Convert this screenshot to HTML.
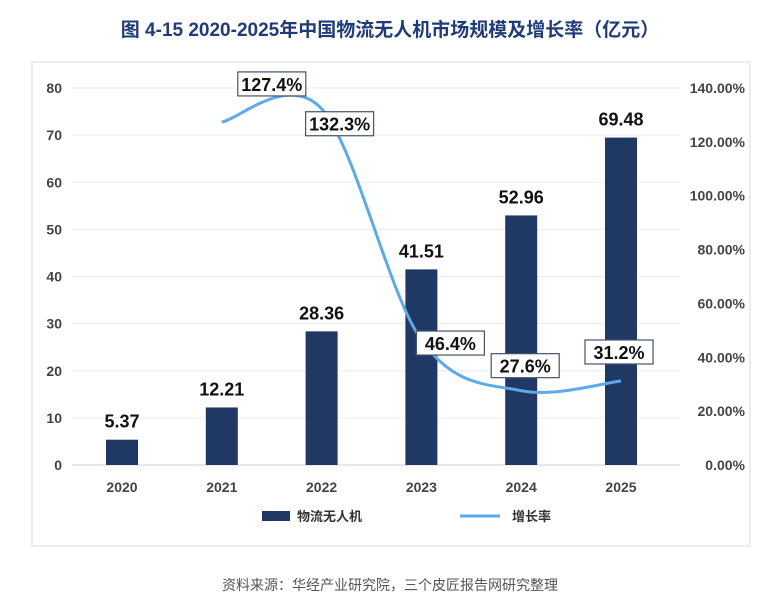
<!DOCTYPE html>
<html><head><meta charset="utf-8"><style>
body{margin:0;background:#fff;width:779px;height:610px;overflow:hidden;font-family:"Liberation Sans","Noto Sans CJK SC",sans-serif}
</style></head><body>
<svg width="779" height="610" xmlns="http://www.w3.org/2000/svg" id="svg" font-family="Liberation Sans, Noto Sans CJK SC, sans-serif">
<text x="390" y="36" text-anchor="middle" font-size="19" font-weight="bold" fill="#1f3c78">图  4-15 2020-2025年中国物流无人机市场规模及增长率（亿元）</text>
<rect x="32" y="62" width="718" height="484" fill="none" stroke="#d9d9d9"/>
<g id="grid"></g><g id="bars"></g><g id="line"></g><g id="labels"></g>
<g>
<rect x="262" y="511" width="28" height="10" fill="#203864"/>
<text x="297" y="521" font-size="13" font-weight="bold" fill="#333">物流无人机</text>
<line x1="460" y1="516" x2="500" y2="516" stroke="#5ea9ea" stroke-width="3"/>
<text x="512" y="521" font-size="13" font-weight="bold" fill="#333">增长率</text>
</g>
<text x="390" y="590" text-anchor="middle" font-size="14" fill="#555">资料来源：华经产业研究院，三个皮匠报告网研究整理</text>
</svg>
<script>
const categories=["2020","2021","2022","2023","2024","2025"];
const marketSize=[5.37,12.21,28.36,41.51,52.96,69.48];
const growthRate=[null,127.4,132.3,46.4,27.6,31.2];
const leftTicks=[0,10,20,30,40,50,60,70,80];
const rightTicks=[0,20,40,60,80,100,120,140];
const NS="http://www.w3.org/2000/svg";
const y0=465,y1=88;
const yL=v=>y0-(v/80)*(y0-y1);
const yR=v=>y0-(v/140)*(y0-y1);
const xC=i=>122+i*99.8;
function mk(t,a,p){const e=document.createElementNS(NS,t);for(const k in a)e.setAttribute(k,a[k]);document.getElementById(p).appendChild(e);return e;}
leftTicks.forEach(v=>{
 const g=mk('line',{x1:72,x2:680,y1:yL(v),y2:yL(v),stroke:v===0?'#d0d0d0':'#ececec'},'grid');
 
 
 const t=mk('text',{x:62,y:yL(v)+5,'text-anchor':'end','font-size':14,'font-weight':'bold',fill:'#444'},'grid');t.textContent=v;
 
 
});
rightTicks.forEach(v=>{
 const t=mk('text',{x:745,y:yR(v)+5,'text-anchor':'end','font-size':14,'font-weight':'bold',fill:'#444'},'grid');t.textContent=v.toFixed(2)+'%';
 
 
});
categories.forEach((c,i)=>{
 const t=mk('text',{x:xC(i),y:492,'text-anchor':'middle','font-size':14,'font-weight':'bold',fill:'#444'},'grid');t.textContent=c;
 
 
 const b=mk('rect',{x:xC(i)-16,y:yL(marketSize[i]),width:32,height:y0-yL(marketSize[i]),fill:'#203864'},'bars');
 
 
 const l=mk('text',{x:xC(i),y:yL(marketSize[i])-12,'text-anchor':'middle','font-size':18,'font-weight':'bold',fill:'#111'},'labels');l.textContent=marketSize[i].toFixed(2);
 
 
});
const pts=[];growthRate.forEach((v,i)=>{if(v!==null)pts.push([xC(i),yR(v)]);});
let d='M'+pts[0][0]+','+pts[0][1];
for(let i=0;i<pts.length-1;i++){
 const p0=pts[Math.max(0,i-1)],p1=pts[i],p2=pts[i+1],p3=pts[Math.min(pts.length-1,i+2)];
 const c1=[p1[0]+(p2[0]-p0[0])/6,p1[1]+(p2[1]-p0[1])/6],c2=[p2[0]-(p3[0]-p1[0])/6,p2[1]-(p3[1]-p1[1])/6];
 d+=` C${c1[0]},${c1[1]} ${c2[0]},${c2[1]} ${p2[0]},${p2[1]}`;
}
const ln=mk('path',{d:d,fill:'none',stroke:'#5ea9ea','stroke-width':3},'line');


const offs=[[0,0],[50,-38],[18,15],[29,3],[4,-25],[-2,-29]];
growthRate.forEach((v,i)=>{
 if(v===null)return;
 const cx=xC(i)+offs[i][0],cy=yR(v)+offs[i][1];
 const r=mk('rect',{x:cx-34,y:cy-12,width:68,height:24,fill:'#fff',stroke:'#44546a','stroke-width':1.2},'labels');
 
 
 const t=mk('text',{x:cx,y:cy+7,'text-anchor':'middle','font-size':18,'font-weight':'bold',fill:'#111'},'labels');t.textContent=v.toFixed(1)+'%';
 
 
});
</script>
</body></html>
